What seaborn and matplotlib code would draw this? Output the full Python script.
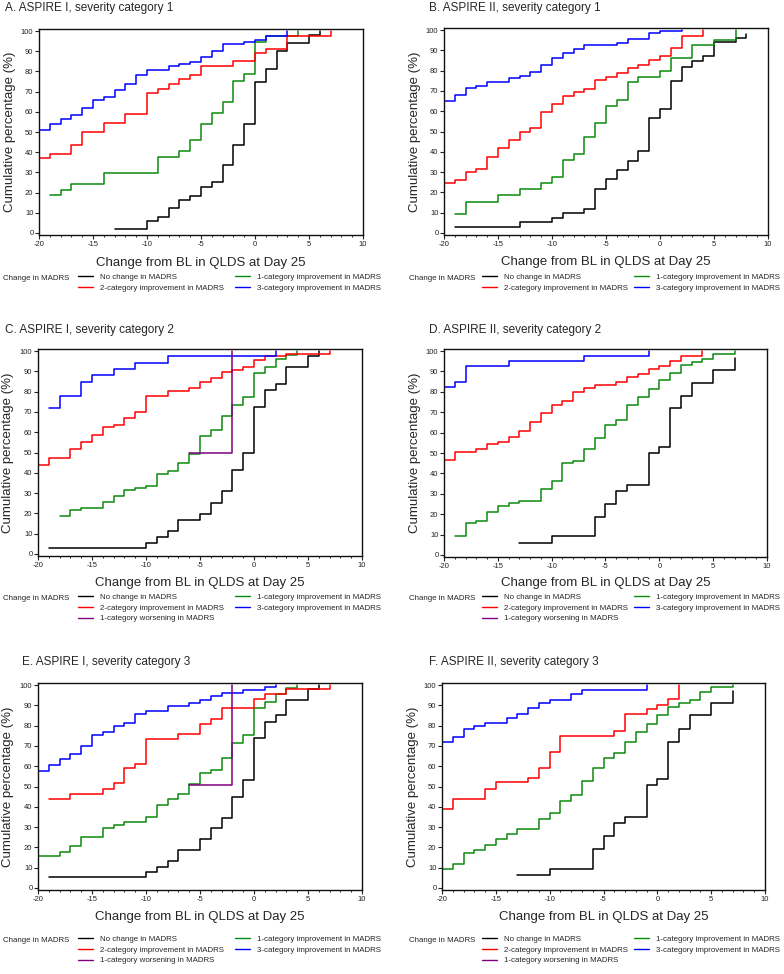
import pandas as pd
import matplotlib
matplotlib.use('Agg')
import matplotlib.pyplot as plt
from matplotlib.lines import Line2D
from matplotlib.ticker import MultipleLocator
import seaborn as sns

sns.set_style('ticks')
plt.rcParams['font.family'] = ['Liberation Sans', 'DejaVu Sans']
plt.rcParams['axes.unicode_minus'] = False

W, H = 784, 974

# A. ASPIRE I, severity category 1
a_none_x = [-13, -10, -9, -8, -7, -6, -5, -4, -3, -2, -1, 0, 1, 2, 3, 5, 6]
a_none_y = [2, 6, 8, 12.5, 16.5, 18.5, 23, 25, 33.5, 43.5, 54, 75, 81, 90, 94, 98, 100]
a_imp1_x = [-19, -18, -17, -14, -9, -7, -6, -5, -4, -3, -2, -1, 0, 1, 4]
a_imp1_y = [19, 21.5, 24.5, 29.5, 37.5, 40.5, 46, 54, 59.5, 65, 75.5, 78.5, 94.5, 97.5, 100]
a_imp2_x = [-20, -19, -17, -16, -14, -12, -10, -9, -8, -7, -6, -5, -2, 0, 1, 3, 7]
a_imp2_y = [37, 39, 43.5, 50, 54.5, 59, 69.5, 71.5, 74, 76, 78, 82.5, 85, 89, 91, 97.5, 100]
a_imp3_x = [-20, -19, -18, -17, -16, -15, -14, -13, -12, -11, -10, -8, -7, -6, -5, -4, -3, -1, 0, 1, 3]
a_imp3_y = [51, 54, 56.5, 58.5, 62, 66, 67.5, 71, 74, 78, 80.5, 82.5, 83.5, 84.5, 87, 90, 93.5, 94.5, 95.5, 97.5, 100]

# B. ASPIRE II, severity category 1
b_none_x = [-19, -13, -10, -9, -7, -6, -5, -4, -3, -2, -1, 0, 1, 2, 3, 4, 5, 7, 8]
b_none_y = [3, 5.5, 7.5, 10, 12, 21.5, 26.5, 31, 35.5, 40.5, 56.5, 61, 75, 82, 84.5, 87, 94, 96, 98]
b_imp1_x = [-19, -18, -15, -13, -11, -10, -9, -8, -7, -6, -5, -4, -3, -2, 0, 1, 3, 5, 7]
b_imp1_y = [9.5, 15.5, 18.5, 21.5, 24.5, 27.5, 36, 39, 47.5, 54, 62.5, 65.5, 74.5, 77, 80, 86, 92.5, 95, 100]
b_imp2_x = [-20, -19, -18, -17, -16, -15, -14, -13, -12, -11, -10, -9, -8, -7, -6, -5, -4, -3, -2, -1, 0, 1, 2, 4]
b_imp2_y = [24.5, 26, 30, 31.5, 37.5, 42, 46, 50, 51.5, 59.5, 63.5, 67.5, 69.5, 71, 75.5, 77, 79, 81.5, 83, 85, 87, 91, 97, 100]
b_imp3_x = [-20, -19, -18, -17, -16, -14, -13, -12, -11, -10, -9, -8, -7, -4, -3, -1, 0, 2]
b_imp3_y = [65, 68, 71.5, 72.5, 74.5, 76.5, 77.5, 79.5, 83, 86, 88.5, 90.5, 92.5, 93.5, 95.5, 98.5, 99.5, 100]

# C. ASPIRE I, severity category 2
c_none_x = [-19, -10, -9, -8, -7, -5, -4, -3, -2, -1, 0, 1, 2, 3, 5, 6]
c_none_y = [3, 5.5, 8.5, 11.5, 16.5, 19.5, 25, 31, 41.5, 50, 72.5, 81, 84, 92, 97.5, 100]
c_imp1_x = [-18, -17, -16, -14, -13, -12, -11, -10, -9, -8, -7, -6, -5, -4, -3, -2, -1, 0, 1, 2, 3, 4]
c_imp1_y = [18.5, 21.5, 22.5, 25.5, 28.5, 31.5, 32.5, 33.5, 39.5, 41, 45, 49.5, 58, 61, 68, 73.5, 77.5, 89, 92, 96, 98, 100]
c_imp2_x = [-20, -19, -17, -16, -15, -14, -13, -12, -11, -10, -8, -6, -5, -4, -3, -2, -1, 0, 1, 3, 7]
c_imp2_y = [44, 47.5, 51.5, 55, 58.5, 62.5, 63.5, 67, 70, 78, 80.5, 82, 84.5, 86.5, 89.5, 90.5, 92, 95.5, 97.5, 98.5, 100]
c_imp3_x = [-19, -18, -16, -15, -13, -11, -8, 2]
c_imp3_y = [72, 78, 84.5, 88, 91, 94, 97.5, 100]
c_wors1_x = [-6, -2]
c_wors1_y = [50, 100]

# D. ASPIRE II, severity category 2
d_none_x = [-13, -10, -6, -5, -4, -3, -1, 0, 1, 2, 3, 5, 7]
d_none_y = [6, 9.5, 18.5, 25, 31.5, 34.5, 50, 53, 72, 78, 84.5, 90.5, 96.5]
d_imp1_x = [-19, -18, -17, -16, -15, -14, -13, -11, -10, -9, -8, -7, -6, -5, -4, -3, -2, -1, 0, 1, 2, 3, 4, 5, 7]
d_imp1_y = [9.5, 15.5, 16.5, 21, 24, 25.5, 26.5, 32.5, 36.5, 45, 46, 52, 57.5, 63.5, 66, 73.5, 77.5, 81.5, 86, 89, 93, 94.5, 96, 98.5, 100]
d_imp2_x = [-20, -19, -17, -16, -15, -14, -13, -12, -11, -10, -9, -8, -7, -6, -4, -3, -2, -1, 0, 1, 2, 4]
d_imp2_y = [46.5, 50.5, 52, 54.5, 55.5, 58, 61, 65, 69.5, 73.5, 75.5, 80, 82, 83.5, 85, 87.5, 88.5, 91, 92.5, 95, 97.5, 100]
d_imp3_x = [-20, -19, -18, -14, -7, -1]
d_imp3_y = [82.5, 85, 92.5, 95, 97.5, 100]

# E. ASPIRE I, severity category 3
e_none_x = [-19, -10, -9, -8, -7, -5, -4, -3, -2, -1, 0, 1, 2, 3, 5, 6]
e_none_y = [5.5, 8, 10.5, 13.5, 18.5, 24, 29.5, 34.5, 45, 53, 74, 82, 85, 92.5, 98, 100]
e_imp1_x = [-20, -18, -17, -16, -14, -13, -12, -10, -9, -8, -7, -6, -5, -4, -3, -2, -1, 0, 1, 2, 3, 4]
e_imp1_y = [16, 17.5, 20.5, 25, 29.5, 31, 32.5, 35, 41, 44, 46.5, 51, 56.5, 58, 64, 71.5, 75.5, 88.5, 91.5, 95.5, 98.5, 100]
e_imp2_x = [-19, -17, -14, -13, -12, -11, -10, -7, -5, -4, -3, 0, 1, 3, 7]
e_imp2_y = [44, 46.5, 49, 51.5, 59, 61, 73.5, 76, 81, 83.5, 88.5, 93, 95.5, 98, 100]
e_imp3_x = [-20, -19, -18, -17, -16, -15, -14, -13, -12, -11, -10, -8, -6, -5, -4, -3, -1, 1, 2]
e_imp3_y = [57.5, 60.5, 63.5, 66, 70, 75.5, 77, 80, 81.5, 85.5, 87, 89.5, 91, 92.5, 94.5, 96, 97.5, 99, 100]
e_wors1_x = [-6, -2]
e_wors1_y = [50.5, 100]

# F. ASPIRE II, severity category 3
f_none_x = [-13, -10, -6, -5, -4, -3, -1, 0, 1, 2, 3, 5, 7]
f_none_y = [6.5, 9.5, 19, 25.5, 32, 35, 50.5, 53.5, 72, 78.5, 85, 91, 97]
f_imp1_x = [-20, -19, -18, -17, -16, -15, -14, -13, -11, -10, -9, -8, -7, -6, -5, -4, -3, -2, -1, 0, 1, 2, 3, 4, 5, 7]
f_imp1_y = [9.5, 12, 17, 18.5, 21, 24, 26.5, 29, 34, 37, 43, 46, 52.5, 59, 64, 66.5, 72, 77, 81, 85, 89, 91, 92.5, 96.5, 99, 100]
f_imp2_x = [-20, -19, -16, -15, -12, -11, -10, -9, -4, -3, -1, 0, 1, 2]
f_imp2_y = [39, 44, 49, 52, 54, 59, 67, 75, 77.5, 85.5, 88, 90, 93, 100]
f_imp3_x = [-20, -19, -18, -17, -16, -14, -13, -12, -11, -10, -8, -7, -1]
f_imp3_y = [72, 74.5, 78.5, 80, 81.5, 84, 85.5, 88.5, 91, 92.5, 95.5, 97.5, 100]

labels = {
    'none': 'No change in MADRS',
    'imp1': '1-category improvement in MADRS',
    'imp2': '2-category improvement in MADRS',
    'imp3': '3-category improvement in MADRS',
    'wors1': '1-category worsening in MADRS',
}
colors = {'none': '#000000', 'imp1': '#0a8a0a', 'imp2': '#ff0000',
          'imp3': '#0000ff', 'wors1': '#800080'}
draw_order = ['none', 'imp1', 'imp2', 'imp3', 'wors1']

panels = [
    dict(title='A. ASPIRE I, severity category 1',
         series={'none': (a_none_x, a_none_y), 'imp1': (a_imp1_x, a_imp1_y),
                 'imp2': (a_imp2_x, a_imp2_y), 'imp3': (a_imp3_x, a_imp3_y)},
         box=(39, 29, 363, 235), title_xy=(5, 8), ylab_x=10, xlab_y=263,
         row1=278, label_x=3, h1=78, h2=235, worsening=False),
    dict(title='B. ASPIRE II, severity category 1',
         series={'none': (b_none_x, b_none_y), 'imp1': (b_imp1_x, b_imp1_y),
                 'imp2': (b_imp2_x, b_imp2_y), 'imp3': (b_imp3_x, b_imp3_y)},
         box=(444, 28, 768, 235), title_xy=(429, 8), ylab_x=415, xlab_y=262,
         row1=278, label_x=409, h1=482, h2=634, worsening=False),
    dict(title='C. ASPIRE I, severity category 2',
         series={'none': (c_none_x, c_none_y), 'imp1': (c_imp1_x, c_imp1_y),
                 'imp2': (c_imp2_x, c_imp2_y), 'imp3': (c_imp3_x, c_imp3_y),
                 'wors1': (c_wors1_x, c_wors1_y)},
         box=(38, 349, 362, 556), title_xy=(5, 330), ylab_x=8, xlab_y=583,
         row1=598, label_x=3, h1=78, h2=235, worsening=True),
    dict(title='D. ASPIRE II, severity category 2',
         series={'none': (d_none_x, d_none_y), 'imp1': (d_imp1_x, d_imp1_y),
                 'imp2': (d_imp2_x, d_imp2_y), 'imp3': (d_imp3_x, d_imp3_y)},
         box=(444, 349, 767, 557), title_xy=(429, 330), ylab_x=415, xlab_y=583,
         row1=598, label_x=409, h1=482, h2=634, worsening=True),
    dict(title='E. ASPIRE I, severity category 3',
         series={'none': (e_none_x, e_none_y), 'imp1': (e_imp1_x, e_imp1_y),
                 'imp2': (e_imp2_x, e_imp2_y), 'imp3': (e_imp3_x, e_imp3_y),
                 'wors1': (e_wors1_x, e_wors1_y)},
         box=(38, 683, 362, 890), title_xy=(22, 662), ylab_x=8, xlab_y=917,
         row1=940, label_x=3, h1=78, h2=235, worsening=True),
    dict(title='F. ASPIRE II, severity category 3',
         series={'none': (f_none_x, f_none_y), 'imp1': (f_imp1_x, f_imp1_y),
                 'imp2': (f_imp2_x, f_imp2_y), 'imp3': (f_imp3_x, f_imp3_y)},
         box=(442, 683, 765, 890), title_xy=(429, 662), ylab_x=413, xlab_y=917,
         row1=940, label_x=409, h1=482, h2=634, worsening=True),
]

fig = plt.figure(figsize=(W / 100, H / 100), dpi=100)


def handle(g):
    return Line2D([], [], color=colors[g], lw=1.0, label=labels[g])


def draw_panel(p):
    l, t, r, b = p['box']
    ax = fig.add_axes([l / W, 1 - b / H, (r - l) / W, (b - t) / H])

    frames = [pd.DataFrame({'change': xs, 'cum_pct': ys, 'group': g})
              for g, (xs, ys) in p['series'].items()]
    df = pd.concat(frames, ignore_index=True)
    order = [g for g in draw_order if g in p['series']]
    sns.lineplot(data=df, x='change', y='cum_pct', hue='group', hue_order=order,
                 palette=colors, estimator=None, drawstyle='steps-post',
                 lw=1.1, legend=False, ax=ax)

    ax.set_xlim(-20, 10)
    ax.set_ylim(-1, 101)
    ax.xaxis.set_major_locator(MultipleLocator(5))
    ax.xaxis.set_minor_locator(MultipleLocator(1))
    ax.yaxis.set_major_locator(MultipleLocator(10))
    ax.tick_params(which='major', length=3, width=0.8, labelsize=5.5, pad=1, colors='#222222')
    ax.tick_params(axis='x', which='minor', length=1.6, width=0.7)
    for s in ax.spines.values():
        s.set_linewidth(1.0)
        s.set_color('#111111')

    ax.set_xlabel('Change from BL in QLDS at Day 25', fontsize=9.5, va='center')
    ax.xaxis.set_label_coords((l + r) / 2 / W, 1 - p['xlab_y'] / H, transform=fig.transFigure)
    ax.set_ylabel('Cumulative percentage (%)', fontsize=9.5, va='center')
    ax.yaxis.set_label_coords(p['ylab_x'] / W, 1 - (t + b) / 2 / H, transform=fig.transFigure)

    tx, ty = p['title_xy']
    fig.text(tx / W, 1 - ty / H, p['title'], fontsize=8.5, ha='left', va='center')

    # legend, drawn as two columns
    row1 = p['row1']
    fig.text(p['label_x'] / W, 1 - row1 / H, 'Change in MADRS', fontsize=5.7, ha='left', va='center')
    col1 = [handle('none'), handle('imp2')]
    if p['worsening']:
        col1.append(handle('wors1'))
    col2 = [handle('imp1'), handle('imp3')]
    for hx, hs in ((p['h1'], col1), (p['h2'], col2)):
        fig.legend(handles=hs, loc='upper left', bbox_to_anchor=(hx / W, 1 - (row1 - 4.6) / H),
                   frameon=False, fontsize=5.7, borderpad=0, borderaxespad=0,
                   handlelength=1.9, handletextpad=0.9, labelspacing=0.4)


for p in panels:
    draw_panel(p)

fig.savefig('out.png', dpi=100)
